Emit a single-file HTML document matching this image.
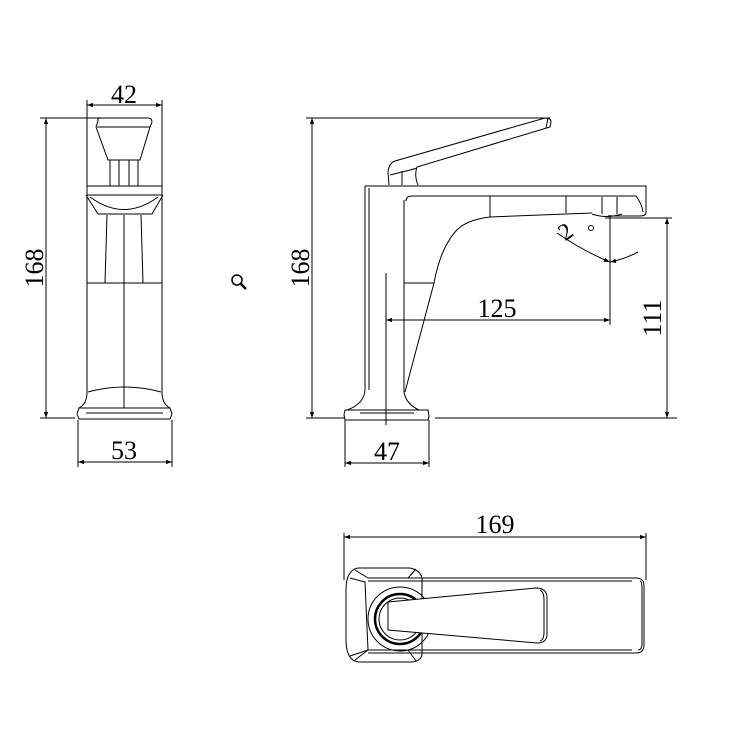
<!DOCTYPE html>
<html><head><meta charset="utf-8"><style>
html,body{margin:0;padding:0;background:#fff}
svg{display:block}
text{font-family:"Liberation Serif",serif;fill:#000}
</style></head><body>
<svg width="750" height="750" viewBox="0 0 750 750" xmlns="http://www.w3.org/2000/svg">
<defs>
<marker id="a" viewBox="0 0 10 10" refX="10" refY="5" markerWidth="14" markerHeight="6" markerUnits="userSpaceOnUse" orient="auto-start-reverse"><path d="M0,1.5 L10,5 L0,8.5 Z" fill="#000"/></marker>
</defs>
<g stroke="#000" fill="none" stroke-width="1">
<!-- LEFT VIEW -->
<line x1="87" y1="100" x2="87" y2="186"/>
<line x1="162" y1="100" x2="162" y2="186"/>
<line x1="87" y1="105" x2="162" y2="105" marker-start="url(#a)" marker-end="url(#a)"/>
<line x1="40" y1="118" x2="110" y2="118"/>
<line x1="40" y1="418" x2="75" y2="418"/>
<line x1="46" y1="118" x2="46" y2="418" marker-start="url(#a)" marker-end="url(#a)"/>
<path d="M98,121 Q97,118 101,118 L148,118 Q152,118 152,122 L150,127 L140,160 L108,160 L96,127 Z"/>
<line x1="97" y1="127" x2="150" y2="127"/>
<rect x="110" y="160" width="28" height="26"/>
<line x1="119" y1="160" x2="119" y2="186"/><line x1="129" y1="160" x2="129" y2="186"/>
<rect x="87" y="186" width="75" height="9"/>
<path d="M86,195 L98,214 L152,214 L163,195 M90,197 Q124,222 158,197"/>
<path d="M107,215 L105,283 M141,215 L143,283"/>
<path d="M87,195 L87,392 Q87,404 79,408 M162,195 L162,392 Q162,404 170,408"/>
<line x1="87" y1="283" x2="162" y2="283"/>
<path d="M88,392 Q124,382 161,392"/>
<path d="M79,408 L170,408 L172,414 L170,419 L79,419 L77,414 Z"/>
<line x1="86" y1="413" x2="163" y2="413"/>
<line x1="124" y1="215" x2="124" y2="408"/>
<line x1="78" y1="420" x2="78" y2="467"/>
<line x1="172" y1="420" x2="172" y2="467"/>
<line x1="78" y1="462" x2="172" y2="462" marker-start="url(#a)" marker-end="url(#a)"/>

<!-- MIDDLE VIEW -->
<line x1="306" y1="118" x2="550" y2="118"/>
<line x1="306" y1="418" x2="345" y2="418"/>
<line x1="435" y1="418" x2="677" y2="418"/>
<line x1="312" y1="118" x2="312" y2="418" marker-start="url(#a)" marker-end="url(#a)"/>
<path d="M389,185 L388,172 Q389,163 395,161 L545,118 Q551,118 551,122 L550,127 L417,167 Q414,175 418,185"/>
<path d="M390,175 L410,170 L417,168 M402,171 L402,185 M548,118 L546,128"/>
<path d="M365,186 L646,186 L646,212 Q646,216 640,216 L608,216"/>
<path d="M369,188 L369,390"/>
<path d="M365,186 L365,390 Q364,404 347,410"/>
<path d="M406,201 Q406,196 412,196 L636,196 Q642,204 643,212"/>
<line x1="490" y1="196" x2="490" y2="217"/>
<line x1="566" y1="196" x2="566" y2="213"/>
<line x1="602" y1="197" x2="602" y2="214"/>
<line x1="617" y1="197" x2="617" y2="214"/>
<path d="M592,214 Q606,219 622,214"/>
<path d="M490,217 L592,213"/>
<path d="M490,217 Q465,220 455,232 Q440,250 434,283 L405,392"/>
<path d="M404,200 L404,392 Q406,404 419,410"/>
<line x1="404" y1="283" x2="434" y2="283"/>
<path d="M345,410 L428,410 L429,416 L428,420 L345,420 L344,415 Z"/>
<line x1="360" y1="413" x2="414" y2="413"/>
<line x1="386" y1="273" x2="386" y2="425"/>
<line x1="386" y1="320" x2="610" y2="320" marker-start="url(#a)" marker-end="url(#a)"/>
<line x1="610" y1="215" x2="610" y2="325"/>
<path d="M557,233 Q585,252 610,262" marker-end="url(#a)"/>
<path d="M638,252 Q625,259 610,262" marker-end="url(#a)"/>
<line x1="605" y1="218" x2="672" y2="218"/>
<line x1="667" y1="218" x2="667" y2="418" marker-start="url(#a)" marker-end="url(#a)"/>
<line x1="345" y1="420" x2="345" y2="467"/>
<line x1="429" y1="420" x2="429" y2="467"/>
<line x1="345" y1="463" x2="429" y2="463" marker-start="url(#a)" marker-end="url(#a)"/>

<!-- BOTTOM VIEW -->
<line x1="344" y1="533" x2="344" y2="580"/>
<line x1="646" y1="533" x2="646" y2="580"/>
<line x1="344" y1="537" x2="646" y2="537" marker-start="url(#a)" marker-end="url(#a)"/>
<path d="M368,578 L636,578 Q644,578 644,586 L644,645 Q644,653 636,653 L368,653"/>
<line x1="368" y1="581" x2="632" y2="581"/>
<line x1="368" y1="650" x2="632" y2="650"/>
<path d="M640,581 Q642,581 642,590 L642,643 Q642,650 638,650"/>
<path d="M358,568 L410,568 Q420,570 422,578 L422,655 Q420,662 410,662 L358,662 Q346,660 346,640 L346,590 Q346,570 358,568 Z"/>
<path d="M350,578 L365,582 L368,650 L350,656 M355,570 L368,578 M355,660 L368,650 M416,569 L408,578 M416,661 L408,650"/>
<circle cx="400" cy="619" r="32"/>
<circle cx="400" cy="619" r="25" stroke-width="2.5"/>
<circle cx="400" cy="619" r="21"/>
<path d="M388,602 L536,588 Q547,588 547,598 L547,634 Q547,643 537,643 L388,630 Z" fill="#fff"/>
<path d="M540,590 Q544,592 544,600 L544,632 Q544,640 540,641"/>
</g>
<g stroke="#000" fill="none" stroke-width="1.6">
<circle cx="237" cy="280" r="5"/>
<line x1="241" y1="284" x2="246" y2="289" stroke-width="2.5"/>
</g>
<g font-size="26">
<text x="124" y="103" text-anchor="middle">42</text>
<text x="124" y="459" text-anchor="middle">53</text>
<text x="387" y="460" text-anchor="middle">47</text>
<text x="497" y="317" text-anchor="middle">125</text>
<text x="495" y="533" text-anchor="middle">169</text>
<text transform="translate(43,268) rotate(-90)" text-anchor="middle">168</text>
<text transform="translate(309,268) rotate(-90)" text-anchor="middle">168</text>
<text transform="translate(661,318) rotate(-90)" text-anchor="middle">111</text>
<text transform="translate(570,238) rotate(-35)" text-anchor="middle" font-size="24">2</text>
</g>
<circle cx="591" cy="228" r="2.5" fill="none" stroke="#000"/>
</svg>
</body></html>
